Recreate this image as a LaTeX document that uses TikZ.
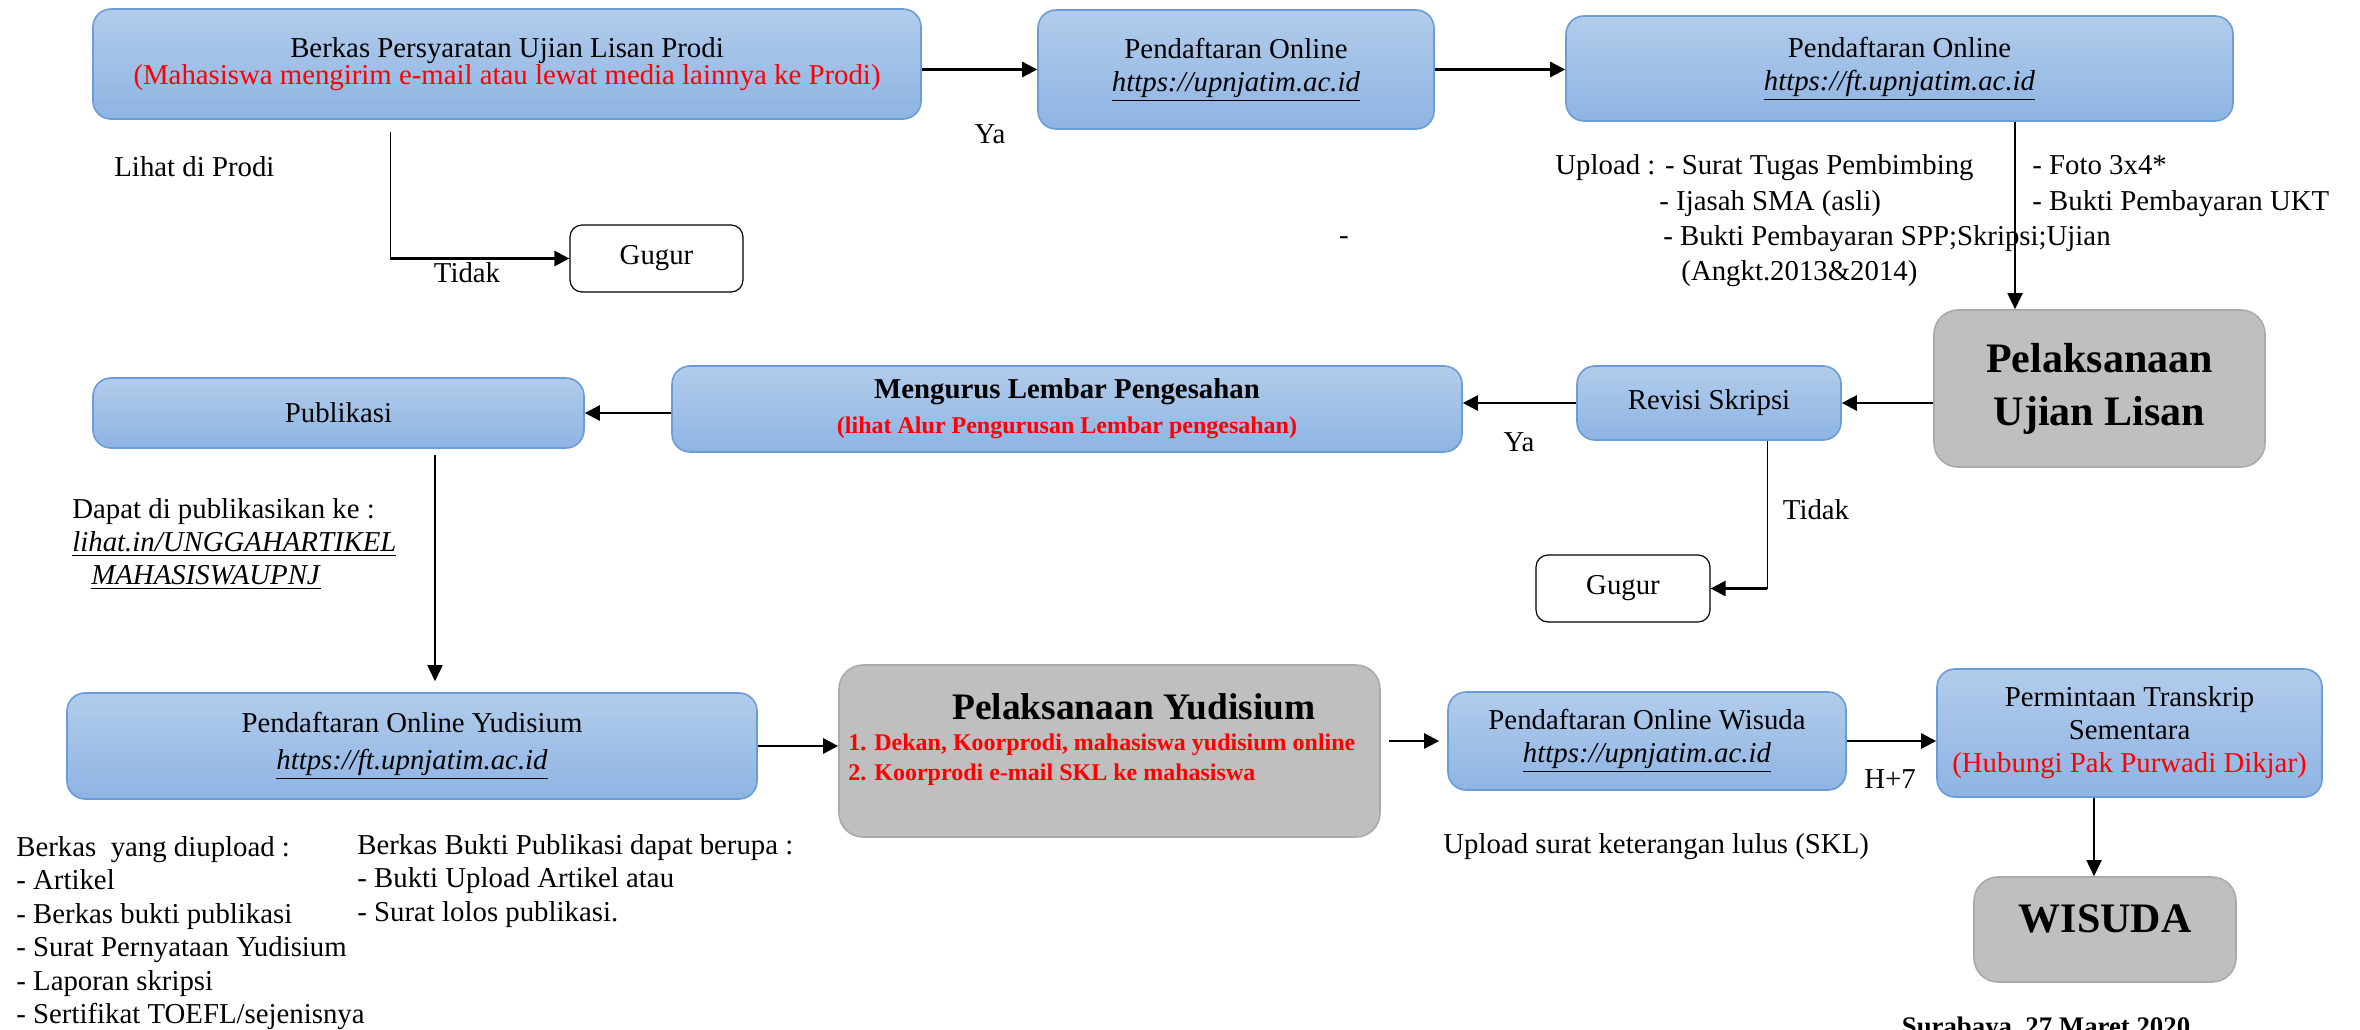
\documentclass[tikz,border=0pt]{standalone}
\usepackage{fontspec}
\setmainfont{Liberation Serif}
\usetikzlibrary{arrows.meta}
\definecolor{boxtop}{RGB}{178,204,235}
\definecolor{boxbot}{RGB}{142,180,227}
\definecolor{boxline}{RGB}{106,157,216}
\definecolor{grayfill}{RGB}{191,191,191}
\definecolor{grayline}{RGB}{170,170,170}
\newcommand{\normtext}{\fontsize{14.4pt}{16.5pt}\selectfont}
\newcommand{\bigtext}{\fontsize{21pt}{26.5pt}\selectfont\bfseries}
\newcommand{\redsmall}{\fontsize{12pt}{15pt}\selectfont\bfseries}
\newcommand{\weblink}[1]{\underline{\textit{#1}}}
\tikzset{
  blubox/.style={draw=boxline, line width=0.8pt, rounded corners=9pt, top color=boxtop, bottom color=boxbot, align=center, font=\normtext},
  grybox/.style={draw=grayline, line width=0.8pt, fill=grayfill, rounded corners=12pt, align=center},
  gugurbox/.style={draw, line width=0.6pt, fill=white, rounded corners=6pt, font=\normtext},
  txt/.style={inner sep=0pt, align=left, font=\normtext},
  arr/.style={line width=1.3pt, -{Triangle[length=7.5pt,width=7.5pt]}},
  varr/.style={line width=0.9pt, -{Triangle[length=8pt,width=7.5pt]}},
  thinline/.style={line width=0.5pt},
}

\begin{document}
\begin{tikzpicture}[x=0.5pt,y=-0.5pt]
\useasboundingbox (0,0) rectangle (2360,1029);
% boxes
\node[blubox, minimum width=414pt, minimum height=55pt] (berkas) at (507,64) {Berkas Persyaratan Ujian Lisan Prodi\\[-3pt]\textcolor{red}{(Mahasiswa mengirim e-mail atau lewat media lainnya ke Prodi)}};
\node[blubox, minimum width=198pt, minimum height=59.5pt] (daftar) at (1236,69.5) {Pendaftaran Online\\\weblink{https://upnjatim.ac.id}};
\node[blubox, minimum width=333.5pt, minimum height=52.5pt] (daftarft) at (1899.5,68.5) {Pendaftaran Online\\\weblink{https://ft.upnjatim.ac.id}};
\node[gugurbox, minimum width=86.5pt, minimum height=33.5pt] (gugura) at (656.5,258.5) {Gugur};
\node[grybox, minimum width=165.5pt, minimum height=78.5pt, font=\bigtext] (ujian) at (2099.5,388.5) {Pelaksanaan\\Ujian Lisan};
\node[blubox, minimum width=132pt, minimum height=37pt] (revisi) at (1709,403) {Revisi Skripsi};
\node[blubox, minimum width=395pt, minimum height=43pt] (lembar) at (1067,409) {\textbf{Mengurus Lembar Pengesahan}\\[1pt]{\redsmall\color{red}(lihat Alur Pengurusan Lembar pengesahan)}};
\node[blubox, minimum width=245.5pt, minimum height=35pt] (publikasi) at (338.5,413) {Publikasi};
\node[gugurbox, minimum width=87pt, minimum height=33.5pt] (gugurb) at (1623,588.5) {Gugur};
\node[blubox, minimum width=345pt, minimum height=53pt] (daftaryud) at (412,746) {Pendaftaran Online Yudisium\\[2pt]\weblink{https://ft.upnjatim.ac.id}};
\node[grybox, minimum width=270.5pt, minimum height=86pt] (yudisium) at (1109.5,751) {};
\node[font=\fontsize{18.7pt}{22pt}\selectfont\bfseries] (yudjudul) at (1134,707) {Pelaksanaan Yudisium};
\node[txt, anchor=west, font=\redsmall, text=red] (yudisi) at (848,760) {1. Dekan, Koorprodi, mahasiswa yudisium online\\2. Koorprodi e-mail SKL ke mahasiswa};
\node[blubox, minimum width=199pt, minimum height=49pt] (daftarwis) at (1647,741) {Pendaftaran Online Wisuda\\\weblink{https://upnjatim.ac.id}};
\node[blubox, minimum width=192.5pt, minimum height=64pt] (transkrip) at (2129.5,733) {Permintaan Transkrip\\Sementara\\\textcolor{red}{(Hubungi Pak Purwadi Dikjar)}};
\node[grybox, minimum width=131pt, minimum height=52.5pt] (wisuda) at (2105,929.5) {};
\node[font=\bigtext] (wisudateks) at (2105,919) {WISUDA};
% loose texts
\node[txt, anchor=west] (lihat) at (114,167) {Lihat di Prodi};
\node[txt] (tidaka) at (467,273) {Tidak};
\node[txt] (yaa) at (990,134) {Ya};
\node[txt] (strip) at (1344,241) {-};
\node[txt, anchor=west, font=\fontsize{14.4pt}{17.7pt}\selectfont] (upload) at (1555,221) {Upload : - Surat Tugas Pembimbing\\\hspace*{52pt}- Ijasah SMA (asli)\\\hspace*{54pt}- Bukti Pembayaran SPP;Skripsi;Ujian\\\hspace*{63pt}(Angkt.2013\&2014)};
\node[txt, anchor=west, font=\fontsize{14.4pt}{17.7pt}\selectfont] (foto) at (2032,186) {- Foto 3x4*\\- Bukti Pembayaran UKT};
\node[txt] (yab) at (1519,442) {Ya};
\node[txt] (tidakb) at (1816,510) {Tidak};
\node[txt, anchor=west] (dapat) at (72,544) {Dapat di publikasikan ke :\\\weblink{lihat.in/UNGGAHARTIKEL}\\\hspace*{9.5pt}\weblink{MAHASISWAUPNJ}};
\node[txt] (hplus) at (1890,779) {H+7};
\node[txt, anchor=west] (skl) at (1443,847) {Upload surat keterangan lulus (SKL)};
\node[txt, anchor=west, font=\fontsize{14.4pt}{16.7pt}\selectfont] (diupload) at (16,933) {Berkas\ \ yang diupload :\\- Artikel\\- Berkas bukti publikasi\\- Surat Pernyataan Yudisium\\- Laporan skripsi\\- Sertifikat TOEFL/sejenisnya};
\node[txt, anchor=west, font=\fontsize{14.4pt}{16.7pt}\selectfont] (bukti) at (357,881) {Berkas Bukti Publikasi dapat berupa :\\- Bukti Upload Artikel atau\\- Surat lolos publikasi.};
\node[txt, anchor=north, font=\fontsize{13.4pt}{16pt}\selectfont\bfseries] (tanggal) at (2046,1016) {Surabaya, 27 Maret 2020};
% connectors
\path[arr]
  (berkas.east |- daftar.west) edge (daftar.west)
  (daftar.east) edge (daftar.east -| daftarft.west)
  (ujian.west |- revisi.east) edge (revisi.east)
  (revisi.west) edge (revisi.west -| lembar.east)
  (lembar.west |- publikasi.east) edge (publikasi.east)
  (daftaryud.east) edge (daftaryud.east -| yudisium.west)
  (daftarwis.east) edge (daftarwis.east -| transkrip.west);
\draw[arr, shorten <=4pt, shorten >=4pt] (daftarwis.west -| yudisium.east) -- (daftarwis.west);
\coordinate (turuna) at (390,132);
\draw[thinline] (turuna) -- (turuna |- gugura.west);
\draw[arr] (turuna |- gugura.west) -- (gugura.west);
\coordinate (turunb) at ([xshift=29pt]revisi.south);
\draw[thinline] (turunb) -- (turunb |- gugurb.east);
\draw[arr] (turunb |- gugurb.east) -- (gugurb.east);
\coordinate (turunc) at ([xshift=57.75pt]daftarft.south);
\draw[varr] (turunc) -- (turunc |- ujian.north);
\coordinate (turund) at (435,455);
\draw[varr, shorten >=5.5pt] (turund) -- (turund |- daftaryud.north);
\coordinate (turune) at ([xshift=-5.5pt]wisuda.north);
\draw[varr] (turune |- transkrip.south) -- (turune);
\end{tikzpicture}
\end{document}
